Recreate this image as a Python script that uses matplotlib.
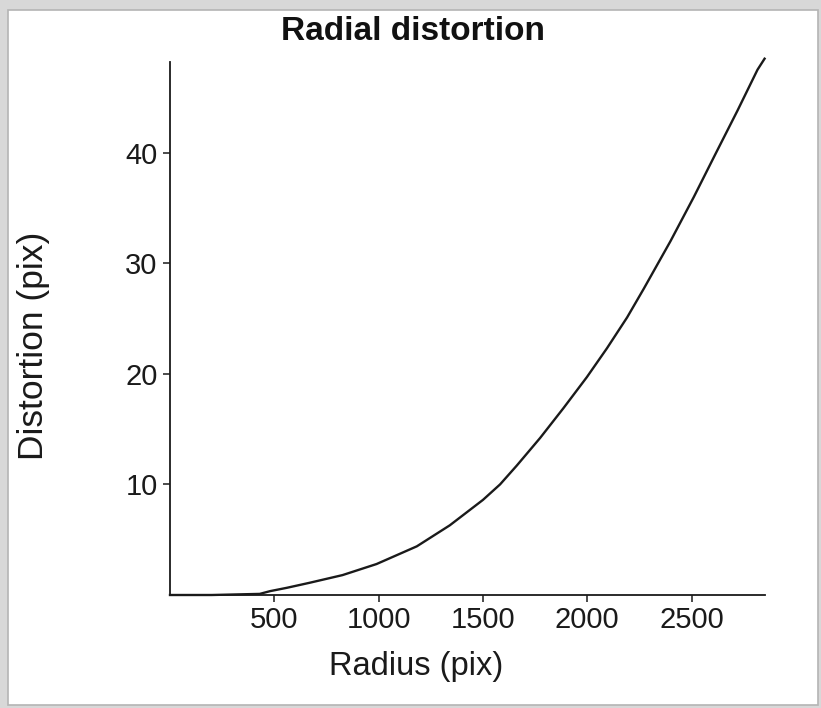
import matplotlib
matplotlib.use("Agg")
import matplotlib.pyplot as plt
from matplotlib.patches import Rectangle

# values
radius = [0, 200, 430, 480, 560, 668, 827, 990, 1183, 1341, 1500, 1582, 1662,
          1774, 1886, 1998, 2094, 2191, 2271, 2399, 2511, 2615, 2720, 2816, 2850]
distortion = [0, 0, 0.1, 0.35, 0.65, 1.1, 1.8, 2.8, 4.4, 6.3, 8.6, 10.0, 11.7,
              14.2, 16.9, 19.7, 22.3, 25.1, 27.7, 32.0, 36.0, 39.9, 43.8, 47.5, 48.5]
xticks = [500, 1000, 1500, 2000, 2500]
yticks = [10, 20, 30, 40]

plt.rcParams["font.family"] = ["Liberation Sans", "DejaVu Sans"]

W, H = 821, 708
fig = plt.figure(figsize=(W / 100, H / 100), dpi=100, facecolor="#d8d8d8")
# white panel with a thin grey edge, kept behind the axes
fig.patches.append(Rectangle((8 / W, 3 / H), 810 / W, 695 / H, transform=fig.transFigure,
                             facecolor="white", edgecolor="#b4b4b4", lw=1.2, zorder=-10))

ax = fig.add_axes([170 / W, 113 / H, 595 / W, 533 / H])
ax.set_facecolor("none")
ax.set_zorder(5)
ax.plot(radius, distortion, color="#1a1a1a", lw=1.7, clip_on=False)

ax.set_xlim(0, 2852)
ax.set_ylim(0, 48.2)
ax.set_xticks(xticks)
ax.set_yticks(yticks)
for s in ["top", "right"]:
    ax.spines[s].set_visible(False)
for s in ["left", "bottom"]:
    ax.spines[s].set_linewidth(1.3)
    ax.spines[s].set_color("#1a1a1a")
ax.tick_params(axis="both", direction="out", length=5, width=1.1, colors="#1a1a1a",
               labelsize=21, labelcolor="#1a1a1a")
ax.tick_params(axis="x", pad=3)
ax.tick_params(axis="y", pad=4)

fig.text(413 / W, 1 - 31 / H, "Radial distortion", ha="center", va="center",
         fontsize=24, fontweight="bold", color="#111111")
fig.text(416 / W, 1 - 667 / H, "Radius (pix)", ha="center", va="center",
         fontsize=23.5, color="#1a1a1a")
fig.text(33 / W, 1 - 346 / H, "Distortion (pix)", ha="center", va="center",
         rotation=90, fontsize=25.5, color="#1a1a1a")

fig.savefig("out.png", dpi=100, facecolor=fig.get_facecolor())
